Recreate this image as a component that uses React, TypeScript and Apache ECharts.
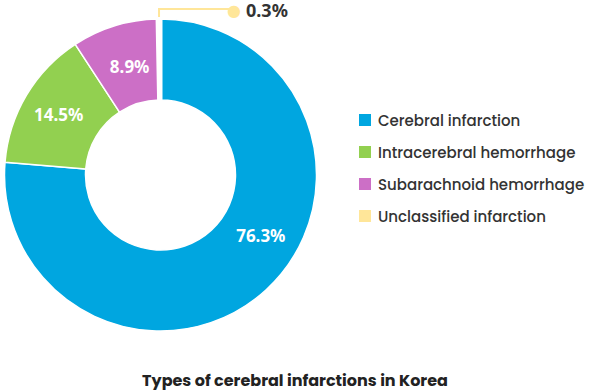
import React, { useEffect, useRef } from "react";
import * as echarts from "echarts";

const categories = [
  "Cerebral infarction",
  "Intracerebral hemorrhage",
  "Subarachnoid hemorrhage",
  "Unclassified infarction",
];
const values = [76.3, 14.5, 8.9, 0.3];
const colors = ["#00A6E0", "#92D050", "#CC6FC6", "#FFE699"];
const chartTitle = "Types of cerebral infarctions in Korea";

export default function App() {
  const ref = useRef<HTMLDivElement>(null);
  useEffect(() => {
    if (!ref.current) return;
    const chart = echarts.init(ref.current, null, { renderer: "svg" });
    const font = "Poppins, Inter, 'Noto Sans', sans-serif";
    const data = categories.map((name, i) => {
      const item: any = {
        name,
        value: values[i],
        itemStyle: { color: colors[i] },
      };
      if (i === 0) {
        item.label = { offset: [20, -27] };
      }
      if (i === 2) {
        item.label = { offset: [4, 5] };
      }
      if (i === 3) {
        item.itemStyle = { color: colors[i], borderWidth: 4, borderColor: "#fff" };
        item.label = {
          position: "outside",
          formatter: "{dot|●}{v|{c}%}",
          rich: {
            dot: { color: "#FFE699", fontSize: 16, lineHeight: 16, fontFamily: "'DejaVu Sans', sans-serif" },
            v: {
              color: "#333",
              fontSize: 18,
              lineHeight: 16,
              fontWeight: "bold",
              fontFamily: "'Noto Sans', sans-serif",
              padding: [0, 0, 0, 5],
            },
          },
        };
        item.labelLine = {
          show: true,
          length: 11,
          length2: 70,
          lineStyle: { color: "#FFE699", width: 2 },
        };
      }
      return item;
    });
    chart.setOption({
      animation: false,
      title: {
        text: chartTitle,
        left: "center",
        top: 371,
        padding: 0,
        textStyle: { fontSize: 16, fontWeight: "bold", color: "#222", fontFamily: font, lineHeight: 18 },
      },
      legend: {
        orient: "vertical",
        left: 352,
        top: 107,
        itemWidth: 14,
        itemHeight: 14,
        itemGap: 16,
        icon: "rect",
        data: categories,
        textStyle: { fontSize: 15, fontWeight: 500, color: "#333", fontFamily: font, padding: [0, 0, 0, 1] },
      },
      series: [
        {
          type: "pie",
          center: [160.5, 175],
          radius: [75, 156],
          startAngle: 90,
          clockwise: true,
          avoidLabelOverlap: false,
          itemStyle: { borderColor: "#fff", borderWidth: 1.5 },
          label: {
            show: true,
            position: "inside",
            formatter: "{c}%",
            color: "#fff",
            fontSize: 17,
            fontWeight: "bold",
            fontFamily: "'Noto Sans', sans-serif",
          },
          labelLine: { show: false },
          labelLayout: (params: any) => {
            if (params.dataIndex !== 3 || !params.labelLinePoints) return {};
            const p0 = params.labelLinePoints[0];
            const x0 = p0[0];
            const y0 = p0[1];
            const yTop = y0 - 10;
            const xEnd = x0 + 70;
            return {
              x: xEnd - 2,
              y: yTop + 1,
              align: "left",
              verticalAlign: "middle",
              labelLinePoints: [
                [x0, y0],
                [x0, yTop],
                [xEnd, yTop],
              ],
            };
          },
          data,
        },
      ],
    });
    return () => chart.dispose();
  }, []);
  return (
    <div
      ref={ref}
      style={{ position: "absolute", left: 0, top: 0, width: 590, height: 390 }}
    />
  );
}
